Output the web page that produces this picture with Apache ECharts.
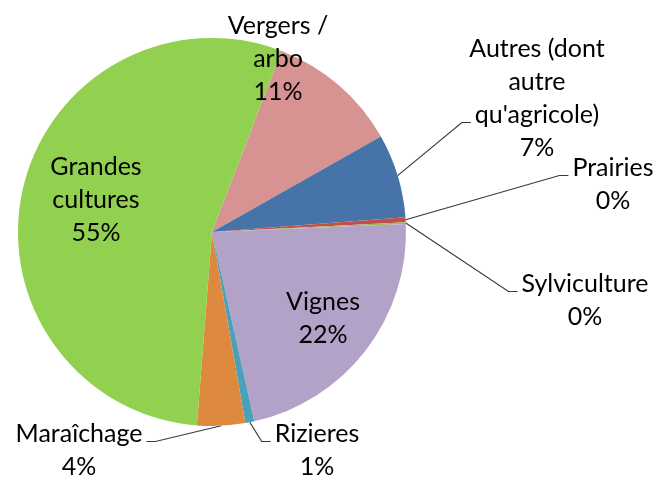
<!DOCTYPE html>
<html>
<head>
<meta charset="utf-8">
<script src="https://cdn.jsdelivr.net/npm/echarts@6/dist/echarts.min.js"></script>
<style>
  html, body { margin: 0; padding: 0; background: #fff; }
  #main { width: 658px; height: 479px; }
</style>
</head>
<body>
<div id="main"></div>
<script>
// données (ordre horaire depuis la part "Vergers")
const categories = ['Vergers /\narbo', "Autres (dont\nautre\nqu'agricole)", 'Prairies', 'Sylviculture',
    'Vignes', 'Rizieres', 'Maraîchage', 'Grandes\ncultures'];
const values = [11, 7, 0.4, 0.15, 22.2, 0.75, 4, 54.7];
const colors = ['#d79391', '#4673a8', '#c0504d', '#9bbb59', '#b2a2c7', '#4ba1b9', '#dd8a3e', '#92d050'];

// placement des étiquettes (centre du bloc de texte) et ancrage des traits de rappel
const FONT = 25, LH = 33;
const labelPlace = [
    { x: 278, y: 59 },
    { x: 537, y: 98, row: 2, side: 'left' },
    { x: 613, y: 184, row: 0, side: 'left' },
    { x: 585, y: 300, row: 0, side: 'left' },
    { x: 323, y: 318 },
    { x: 317, y: 450, row: 0, side: 'left' },
    { x: 79, y: 450, row: 0, side: 'right' },
    { x: 96, y: 200 }
];

const ctx = document.createElement('canvas').getContext('2d');
ctx.font = FONT + 'px Lato';
function textWidth(s) { return ctx.measureText(s).width; }

var myChart = echarts.init(document.getElementById('main'));

const option = {
    animation: false,
    series: [{
        type: 'pie',
        center: [212, 232],
        radius: 194,
        startAngle: 69,
        clockwise: true,
        avoidLabelOverlap: false,
        itemStyle: { borderWidth: 0 },
        label: {
            position: 'outside',
            fontFamily: 'Lato',
            fontSize: FONT,
            lineHeight: LH,
            color: '#000',
            formatter: p => p.name + '\n' + Math.round(p.percent) + '%'
        },
        labelLine: {
            show: true,
            lineStyle: { color: '#3a3a3a', width: 1.2 }
        },
        labelLayout: function (p) {
            const cfg = labelPlace[p.dataIndex];
            const out = { x: cfg.x, y: cfg.y, align: 'center', verticalAlign: 'middle' };
            if (cfg.row != null && p.labelLinePoints) {
                const lines = (p.text || '').split('\n');
                const top = cfg.y - lines.length * LH / 2;
                const ay = top + cfg.row * LH + LH / 2 + 8;
                const w = textWidth(lines[cfg.row] || '');
                const ax = cfg.side === 'left' ? cfg.x - w / 2 - 4 : cfg.x + w / 2 + 4;
                const ex = cfg.side === 'left' ? ax - 9 : ax + 9;
                out.labelLinePoints = [p.labelLinePoints[0], [ex, ay], [ax, ay]];
            }
            return out;
        },
        data: categories.map((c, i) => ({
            name: c,
            value: values[i],
            itemStyle: { color: colors[i] },
            labelLine: { show: labelPlace[i].row != null }
        }))
    }]
};

myChart.setOption(option);
</script>
</body>
</html>
